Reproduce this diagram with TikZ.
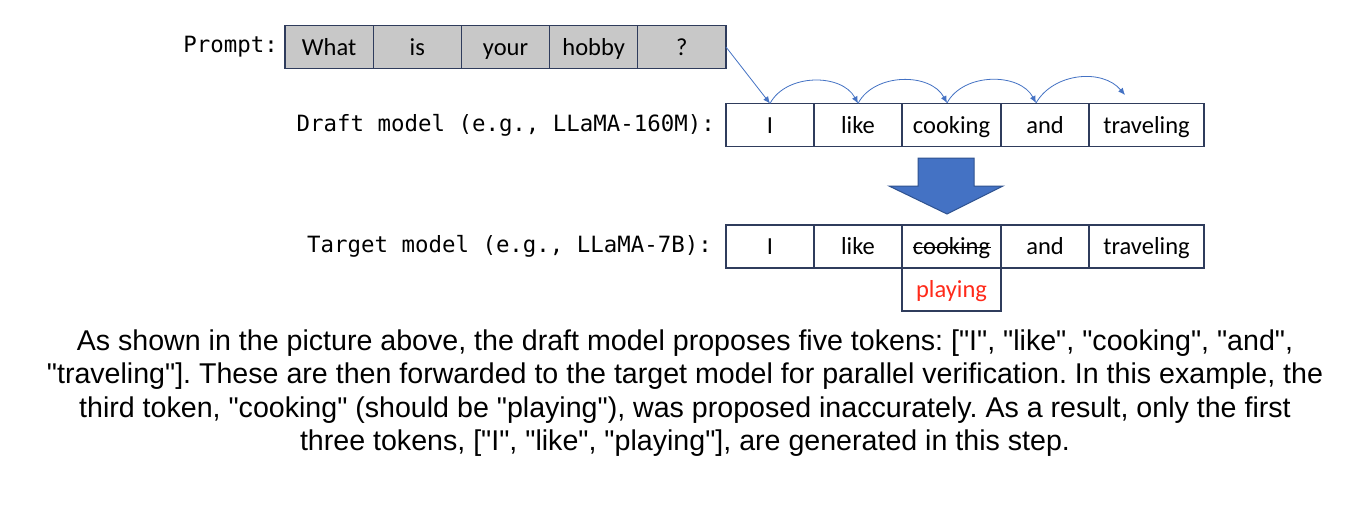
\documentclass[tikz,border=0pt]{standalone}
\usepackage{fontspec}
\setmainfont{Liberation Sans}[Ligatures=TeXOff]
\setmonofont{DejaVu Sans Mono}
\newfontfamily\tokfont{Carlito}
\usepackage{xcolor}
\usepackage{tikz}
\usetikzlibrary{positioning, arrows.meta}
\frenchspacing

\definecolor{boxline}{HTML}{2F3C5C}
\definecolor{promptgray}{HTML}{C8C8C8}
\definecolor{arrowblue}{HTML}{4472C4}
\definecolor{arrowedge}{HTML}{2F528F}
\definecolor{fixred}{HTML}{FF2A1A}

\tikzset{
  tok/.style={draw=boxline, line width=1.3pt, minimum height=43pt, inner sep=0pt, outer sep=0pt,
    text height=19pt, text depth=3pt, font=\tokfont\fontsize{24.5}{28}\selectfont},
  prompttok/.style={tok, fill=promptgray, minimum width=88.2pt},
  lbl/.style={font=\ttfamily\fontsize{22.4}{26}\selectfont, inner sep=0pt},
  hop/.style={arrowblue, line width=0.8pt, -{Latex[length=7pt,width=6pt]}},
}

\begin{document}
\begin{tikzpicture}[x=1pt,y=-1pt]
\fill[white] (0,0) rectangle (1371,509);
\useasboundingbox (0,0) rectangle (1371,509);

% prompt row
\node[prompttok] (p1) at (329.1,47) {What};
\node[prompttok, right=0pt of p1] (p2) {is};
\node[prompttok, right=0pt of p2] (p3) {your};
\node[prompttok, right=0pt of p3] (p4) {hobby};
\node[prompttok, right=0pt of p4] (p5) {?};
\node[lbl, left=7pt of p1] (promptlbl) {Prompt:};

% draft row
\node[tok, minimum width=88pt] (d1) at (770,125) {I};
\node[tok, minimum width=88pt, right=0pt of d1] (d2) {like};
\node[tok, minimum width=99pt, right=0pt of d2] (d3) {cooking};
\node[tok, minimum width=88pt, right=0pt of d3] (d4) {and};
\node[tok, minimum width=115pt, right=0pt of d4] (d5) {traveling};
\node[lbl, left=11pt of d1] (draftlbl) {Draft model (e.g., LLaMA-160M):};

% target row
\node[tok, minimum width=88pt] (t1) at (770,246.5) {I};
\node[tok, minimum width=88pt, right=0pt of t1] (t2) {like};
\node[tok, minimum width=99pt, right=0pt of t2] (t3) {cooking};
\node[tok, minimum width=88pt, right=0pt of t3] (t4) {and};
\node[tok, minimum width=115pt, right=0pt of t4] (t5) {traveling};
\node[tok, minimum width=99pt, below=0pt of t3, text=fixred] (fix) {playing};
\node[lbl, left=14pt of t1] (targetlbl) {Target model (e.g., LLaMA-7B):};
\draw[line width=1.4pt] ([xshift=-39pt,yshift=-1pt]t3.center) -- ([xshift=39pt,yshift=-1pt]t3.center);

% big arrow between the rows
\filldraw[fill=arrowblue, draw=arrowedge, line width=1pt]
  (918,158) -- (974,158) -- (974,186) -- (1003,186) -- (947,214) -- (889,186) -- (918,186) -- cycle;

% hops of the draft model
\coordinate (h2) at (947,103);
\coordinate (h3) at (1036,103);
\coordinate (h4) at (1125,95);
\draw[hop] (p5.east) -- (d1.north);
\draw[hop] (d1.north) to[bend left=62] (d2.north);
\draw[hop] (d2.north) to[bend left=62] (h2);
\draw[hop] (h2) to[bend left=62] (h3);
\draw[hop] (h3) to[bend left=55] (h4);

% caption
\node[font=\fontsize{28.6}{33.5}\selectfont, align=center, inner sep=0pt] (note) at (685,393)
  {As shown in the picture above, the draft model proposes five tokens: ["I", "like", "cooking", "and",\\
   "traveling"]. These are then forwarded to the target model for parallel verification. In this example, the\\
   third token, "cooking" (should be "playing"), was proposed inaccurately. As a result, only the first\\
   three tokens, ["I", "like", "playing"], are generated in this step.};
\end{tikzpicture}
\end{document}
